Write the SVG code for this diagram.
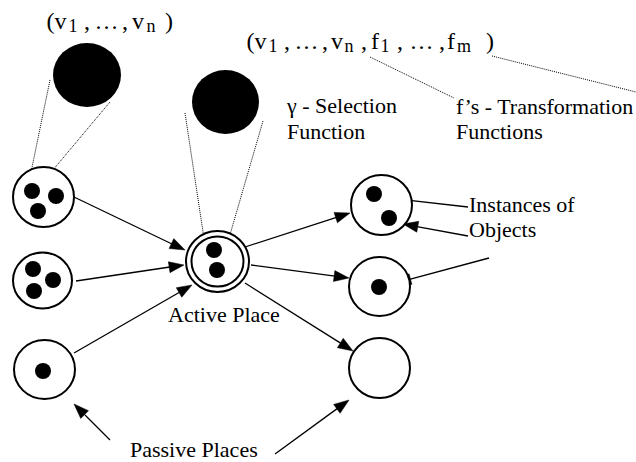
<svg xmlns="http://www.w3.org/2000/svg" width="636" height="462" viewBox="0 0 636 462">
<style>
.place{fill:#fff;stroke:#000;stroke-width:2}
.tok{fill:#000}
.arc{stroke:#000;stroke-width:1.3;fill:none}
.head{fill:#000;stroke:#000;stroke-width:0.5}
.dot{stroke:#000;stroke-width:1;stroke-dasharray:1 1;fill:none}
text{font-family:'Liberation Serif','Times New Roman',serif;fill:#000}
.lbl{font-size:22px}
.tup{font-size:24px}
.sub{font-size:18px}
</style>
<rect width="636" height="462" fill="#fff"/>

<g id="connectors">
<path class="dot" d="M50,80 L29,182"/>
<path class="dot" d="M110,102 L42,183"/>
<path class="dot" d="M185,113 L205,245"/>
<path class="dot" d="M263,121 L227,245"/>
<path class="dot" d="M370,57 L454,98"/>
<path class="dot" d="M492,56 L636,92"/>
<path class="arc" d="M74,197 L172,244"/>
<path class="head" d="M185,250 L169.09,248.55 L173.79,238.61 Z"/>
<path class="arc" d="M76,281 L170,267"/>
<path class="head" d="M184,265 L169.97,272.64 L168.35,261.76 Z"/>
<path class="arc" d="M74,353 L179.5,292.2"/>
<path class="head" d="M192,285 L181.75,297.25 L176.27,287.73 Z"/>
<path class="arc" d="M245,247 L336.5,217.4"/>
<path class="head" d="M350,213 L337.42,222.85 L334.04,212.39 Z"/>
<path class="arc" d="M251,265 L335,276.1"/>
<path class="head" d="M349,278 L333.41,281.48 L334.85,270.58 Z"/>
<path class="arc" d="M245,283 L341,343.4"/>
<path class="head" d="M353,351 L337.38,347.65 L343.24,338.35 Z"/>
<path class="arc" d="M468,207 L403,199.6"/>
<path class="head" d="M389,198 L404.52,194.24 L403.28,205.16 Z"/>
<path class="arc" d="M468,236 L417,226.6"/>
<path class="head" d="M403,224 L418.75,221.31 L416.75,232.13 Z"/>
<path class="arc" d="M489,258 L409.5,279.4"/>
<path class="head" d="M396,283 L409.06,273.8 L411.92,284.42 Z"/>
<path class="arc" d="M110,440 L85,415"/>
<path class="head" d="M74,404 L88.5,410.72 L80.72,418.5 Z"/>
<path class="arc" d="M275,454 L337.5,408.4"/>
<path class="head" d="M349,400 L340.12,413.28 L333.64,404.4 Z"/>
</g>

<g id="object-1">
<ellipse class="tok" cx="87" cy="75" rx="34" ry="32"/>
</g>
<g id="object-2">
<ellipse class="tok" cx="225.5" cy="102" rx="33.5" ry="32"/>
</g>

<g id="place-upper-left">
<ellipse class="place" cx="43.5" cy="197" rx="30.5" ry="30"/>
<circle class="tok" cx="32" cy="191" r="8"/>
<circle class="tok" cx="56" cy="196" r="8"/>
<circle class="tok" cx="38" cy="211" r="8"/>
</g>
<g id="place-middle-left">
<ellipse class="place" cx="42.5" cy="280.5" rx="29.5" ry="28"/>
<circle class="tok" cx="33" cy="269" r="8"/>
<circle class="tok" cx="53" cy="280" r="8"/>
<circle class="tok" cx="34" cy="291" r="8"/>
</g>
<g id="place-lower-left">
<ellipse class="place" cx="44.5" cy="369.5" rx="30.5" ry="29.5"/>
<circle class="tok" cx="43" cy="371" r="8"/>
</g>
<g id="active-place">
<ellipse class="place" cx="217.5" cy="261.5" rx="31.5" ry="30.5"/>
<ellipse cx="217.5" cy="261.5" rx="26" ry="25" fill="none" stroke="#000" stroke-width="2"/>
<circle class="tok" cx="214" cy="250" r="8"/>
<circle class="tok" cx="217" cy="270" r="8"/>
<text class="lbl" style="font-family:'Liberation Serif',serif" x="168" y="322">Active Place</text>
</g>
<g id="place-upper-right">
<ellipse class="place" cx="381.5" cy="205" rx="30.5" ry="30"/>
<circle class="tok" cx="374" cy="194" r="8"/>
<circle class="tok" cx="389" cy="218" r="8"/>
</g>
<g id="place-middle-right">
<ellipse class="place" cx="379.5" cy="286.5" rx="30.5" ry="29.5"/>
<circle class="tok" cx="379" cy="287" r="8"/>
</g>
<g id="place-lower-right">
<ellipse class="place" cx="379.5" cy="368" rx="30.5" ry="30"/>
</g>

<g id="labels">
<text class="tup" y="28.5"><tspan x="46.5">(</tspan><tspan x="54.5">v</tspan><tspan class="sub" x="68.5" y="31.5">1</tspan><tspan x="84" y="28.5">,</tspan><tspan x="94.5">…</tspan><tspan x="122">,</tspan><tspan x="132">v</tspan><tspan class="sub" x="146.5" y="31.5">n</tspan><tspan x="165" y="28.5">)</tspan></text>
<text class="tup" y="49"><tspan x="246.5">(</tspan><tspan x="254.5">v</tspan><tspan class="sub" x="268.5" y="52">1</tspan><tspan x="284" y="49">,</tspan><tspan x="294.5">…</tspan><tspan x="322">,</tspan><tspan x="331">v</tspan><tspan class="sub" x="344.5" y="52">n</tspan><tspan x="361" y="49">,</tspan><tspan x="371">f</tspan><tspan class="sub" x="380.5" y="52">1</tspan><tspan x="397" y="49">,</tspan><tspan x="409.5">…</tspan><tspan x="439">,</tspan><tspan x="447">f</tspan><tspan class="sub" x="457" y="52">m</tspan><tspan x="486" y="49">)</tspan></text>
<text class="lbl" x="287" y="113">γ - Selection</text>
<text class="lbl" x="287" y="139">Function</text>
<text class="lbl" x="456" y="114">f’s - Transformation</text>
<text class="lbl" x="456" y="139">Functions</text>
<text class="lbl" x="469" y="212">Instances of</text>
<text class="lbl" x="469" y="237">Objects</text>
<text class="lbl" x="130" y="457">Passive Places</text>
</g>
</svg>
